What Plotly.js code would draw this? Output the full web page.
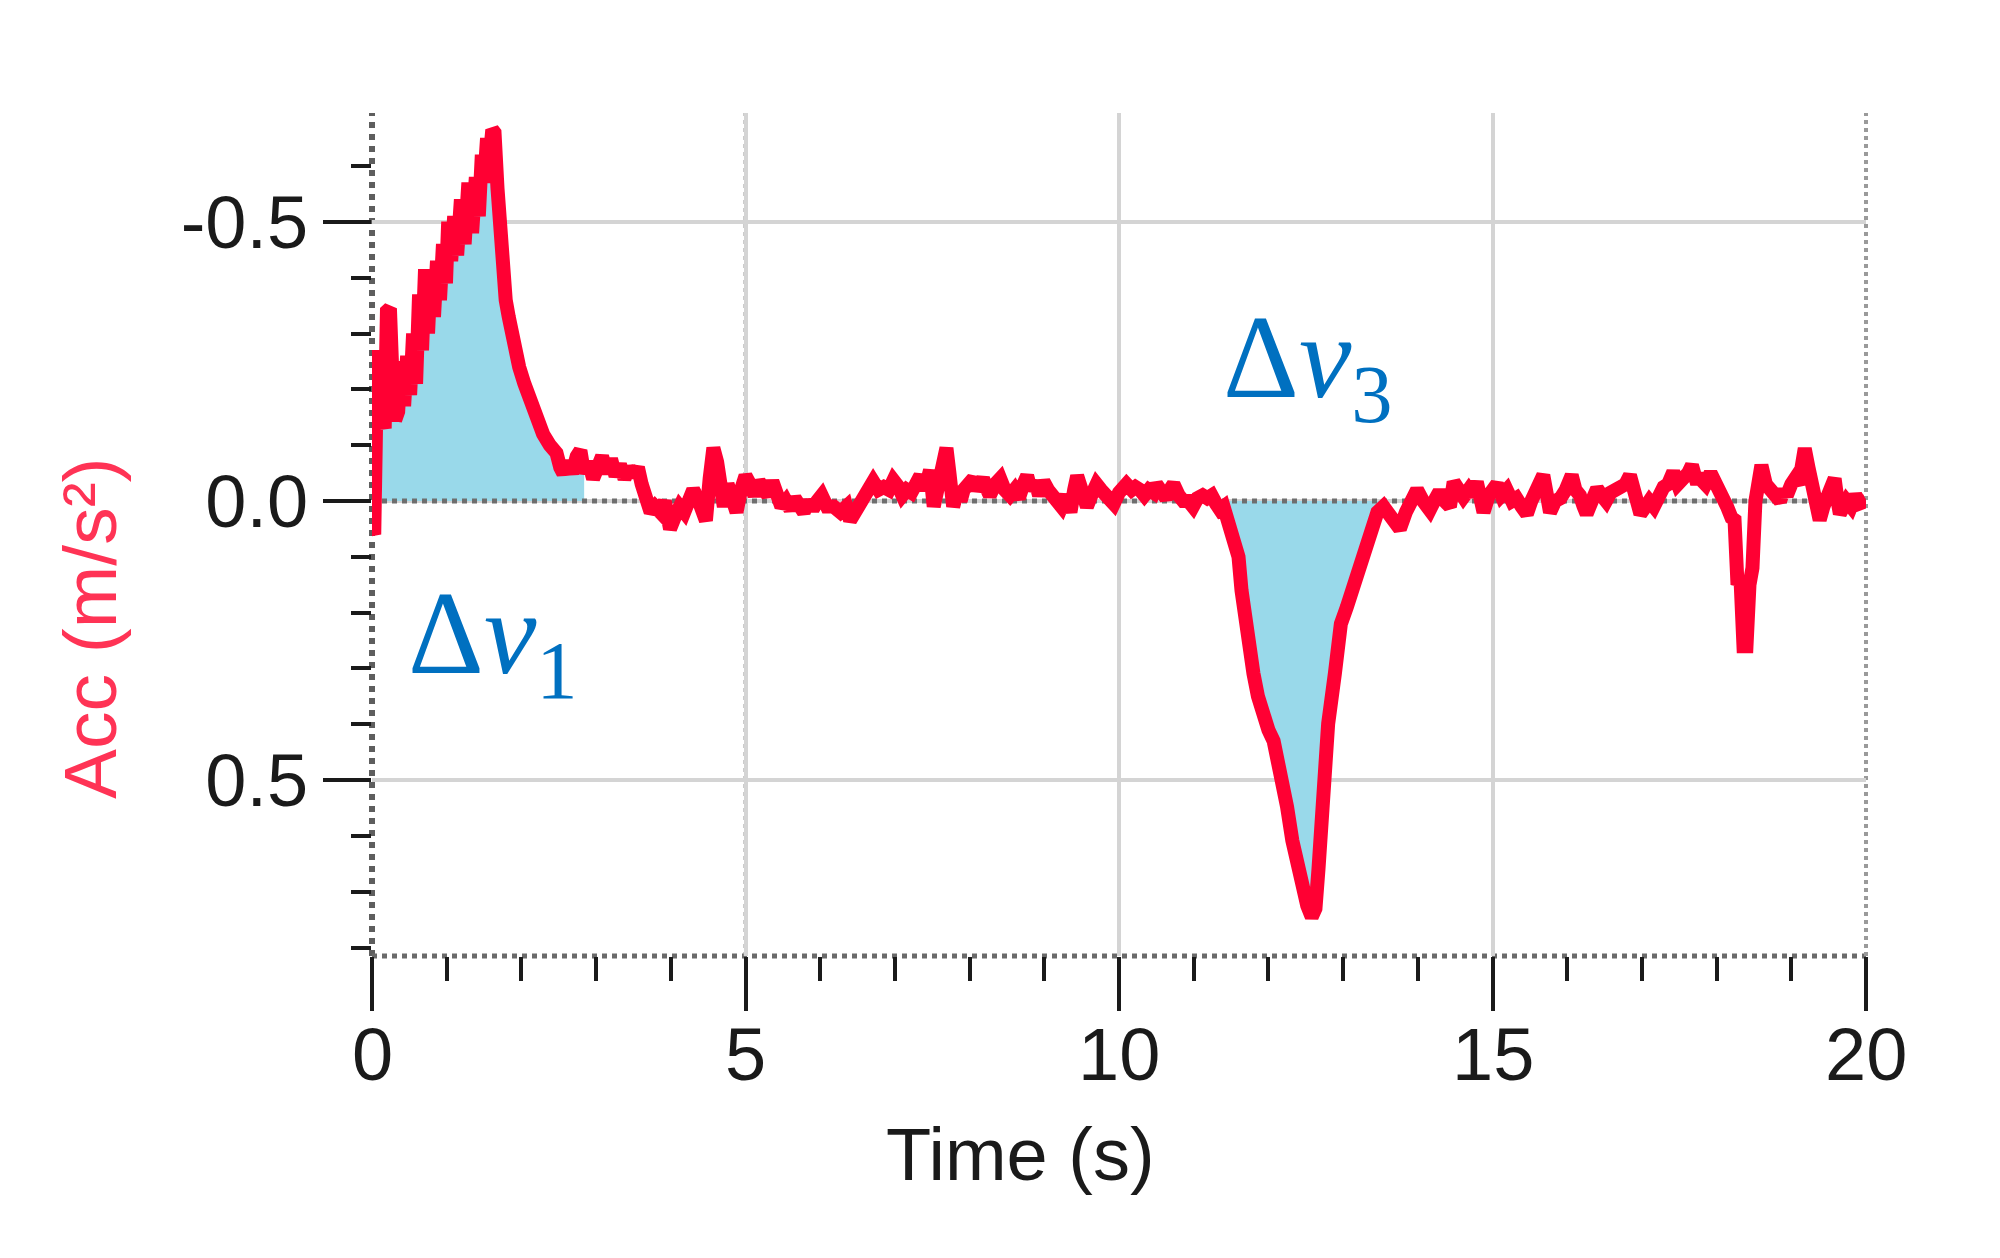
<!DOCTYPE html>
<html>
<head>
<meta charset="utf-8">
<script src="https://cdn.plot.ly/plotly-3.0.1.min.js"></script>
<style>html,body{margin:0;padding:0;background:#fff;}#chart{width:2000px;height:1258px;}</style>
</head>
<body>
<div id="chart"></div>
<script>
// Time (s)
const time = [
0.00,0.03,0.05,0.07,0.10,0.13,0.17,0.20,0.24,0.28,0.31,0.35,0.39,0.43,0.47,0.51,0.55,0.59,0.63,0.67,
0.71,0.75,0.79,0.83,0.87,0.91,0.95,0.99,1.02,1.06,1.10,1.14,1.19,1.24,1.29,1.34,1.39,1.43,1.47,1.50,
1.54,1.58,1.61,1.64,1.68,1.72,1.76,1.79,1.83,1.87,1.92,1.97,2.04,2.11,2.20,2.29,2.38,2.47,2.52,2.56,
2.62,2.68,2.74,2.79,2.84,2.90,2.96,3.02,3.08,3.14,3.20,3.26,3.32,3.38,3.44,3.50,3.56,3.61,3.67,3.73,
3.79,3.86,3.92,3.99,4.05,4.12,4.18,4.24,4.30,4.36,4.42,4.47,4.52,4.57,4.62,4.66,4.71,4.76,4.82,4.88,
4.94,5.00,5.06,5.12,5.18,5.24,5.30,5.36,5.42,5.48,5.54,5.60,5.66,5.72,5.78,5.84,5.90,5.96,6.02,6.09,
6.18,6.27,6.35,6.40,6.47,6.53,6.60,6.66,6.71,6.78,6.85,6.92,6.98,7.05,7.10,7.16,7.22,7.28,7.34,7.40,
7.47,7.52,7.56,7.60,7.65,7.69,7.73,7.78,7.84,7.88,7.92,7.98,8.05,8.10,8.18,8.22,8.27,8.34,8.41,8.47,
8.54,8.60,8.66,8.72,8.77,8.82,8.88,8.93,8.99,9.05,9.11,9.17,9.23,9.29,9.35,9.40,9.44,9.50,9.57,9.63,
9.70,9.76,9.82,9.88,9.93,10.00,10.05,10.10,10.17,10.22,10.28,10.34,10.40,10.46,10.50,10.57,10.63,10.68,10.73,10.80,
10.86,10.93,10.99,11.05,11.12,11.18,11.24,11.30,11.35,11.40,11.44,11.49,11.55,11.60,11.64,11.71,11.80,11.86,11.92,12.00,
12.07,12.17,12.25,12.32,12.40,12.46,12.52,12.58,12.63,12.67,12.70,12.74,12.80,12.89,12.97,13.05,13.14,13.25,13.32,13.38,
13.46,13.54,13.60,13.67,13.76,13.84,13.90,13.99,14.07,14.16,14.22,14.29,14.36,14.43,14.48,14.55,14.61,14.68,14.73,14.79,
14.84,14.88,14.95,15.00,15.06,15.12,15.19,15.26,15.32,15.39,15.46,15.52,15.58,15.64,15.68,15.73,15.77,15.84,15.91,15.98,
16.06,16.11,16.17,16.22,16.26,16.33,16.40,16.46,16.52,16.58,16.64,16.71,16.78,16.84,16.90,16.95,16.98,17.05,17.10,17.16,
17.22,17.29,17.35,17.42,17.48,17.56,17.62,17.67,17.72,17.78,17.85,17.92,17.96,18.02,18.05,18.10,18.14,18.20,18.24,18.28,
18.32,18.36,18.40,18.44,18.48,18.52,18.56,18.60,18.66,18.71,18.78,18.85,18.90,18.94,19.00,19.05,19.10,19.14,19.18,19.23,
19.29,19.34,19.38,19.43,19.47,19.52,19.58,19.62,19.65,19.70,19.74,19.80,19.86,19.92,20.00
];
// Acceleration (m/s^2)
const acc = [
0.05,0.06,-0.10,-0.27,-0.24,-0.15,-0.13,-0.34,-0.345,-0.20,-0.145,-0.16,-0.25,-0.17,-0.26,-0.19,-0.30,-0.21,-0.37,-0.27,
-0.415,-0.30,-0.415,-0.33,-0.43,-0.36,-0.46,-0.39,-0.50,-0.43,-0.51,-0.44,-0.54,-0.46,-0.57,-0.48,-0.58,-0.51,-0.62,-0.57,
-0.65,-0.62,-0.665,-0.66,-0.56,-0.46,-0.42,-0.36,-0.33,-0.30,-0.27,-0.24,-0.21,-0.18,-0.15,-0.12,-0.10,-0.086,-0.06,-0.05,
-0.07,-0.05,-0.08,-0.09,-0.05,-0.07,-0.04,-0.07,-0.08,-0.05,-0.075,-0.045,-0.065,-0.04,-0.06,-0.045,-0.06,-0.03,-0.005,0.02,
0.01,0.02,0.00,0.05,0.03,0.01,0.02,-0.01,-0.02,-0.005,0.02,0.035,-0.04,-0.095,-0.07,-0.03,0.01,-0.03,-0.01,0.02,
-0.02,-0.045,-0.03,-0.01,-0.035,-0.02,-0.01,-0.035,-0.01,0.01,0.00,0.015,-0.005,0.01,0.02,0.00,0.015,0.00,-0.01,0.01,
0.01,0.02,0.01,0.035,0.02,0.005,-0.01,-0.02,-0.035,-0.02,-0.025,-0.02,-0.037,-0.025,-0.01,-0.02,-0.015,-0.03,-0.045,-0.02,
-0.055,0.01,-0.01,-0.03,-0.06,-0.095,-0.05,0.01,-0.02,0.00,-0.02,-0.03,-0.04,-0.02,-0.04,-0.025,-0.01,-0.03,-0.04,-0.02,
-0.01,-0.02,-0.005,-0.03,-0.045,-0.02,-0.035,-0.01,-0.035,-0.02,-0.01,0.00,0.01,-0.01,0.02,-0.02,-0.045,-0.02,0.01,-0.01,
-0.03,-0.02,-0.01,0.00,0.005,-0.015,-0.02,-0.03,-0.02,-0.025,-0.02,-0.01,-0.02,-0.015,-0.03,-0.01,-0.005,-0.02,-0.03,-0.01,
0.00,0.00,0.01,-0.005,-0.01,-0.005,-0.01,0.005,0.015,0.01,0.03,0.05,0.065,0.10,0.16,0.237,0.309,0.35,0.387,0.41,
0.43,0.488,0.548,0.608,0.668,0.70,0.725,0.745,0.73,0.66,0.60,0.488,0.399,0.309,0.22,0.19,0.154,0.10,0.07,0.04,
0.02,0.01,0.02,0.04,0.05,0.02,0.00,-0.02,0.00,0.016,0.00,-0.017,0.00,0.01,-0.034,-0.02,-0.007,-0.02,-0.01,-0.034,
0.00,0.02,-0.01,-0.02,-0.03,-0.01,-0.02,0.00,-0.005,0.01,0.023,0.00,-0.02,-0.03,-0.046,-0.01,0.02,0.00,-0.005,-0.02,
-0.046,-0.02,-0.01,0.01,0.023,0.00,-0.022,-0.01,0.00,-0.015,-0.02,-0.02,-0.03,-0.046,-0.01,0.01,0.023,0.01,0.00,0.01,
-0.01,-0.025,-0.03,-0.052,-0.03,-0.04,-0.05,-0.064,-0.04,-0.04,-0.03,-0.05,-0.04,-0.03,-0.02,0.00,0.01,0.03,0.034,0.15,
0.14,0.26,0.26,0.15,0.12,0.00,-0.04,-0.064,-0.03,-0.02,-0.01,0.00,-0.02,-0.01,-0.03,-0.04,-0.03,-0.07,-0.094,-0.06,
-0.02,0.01,0.034,0.01,0.00,-0.02,-0.04,0.00,0.023,0.01,0.00,0.01,-0.01,0.004,0.00
];
// Shaded integration intervals (s): Δv1 and Δv3
const integralStart = [0.13, 11.42];
const integralEnd = [2.85, 13.56];
// Axis tick labels
const yTickVals = [-0.5, 0.0, 0.5];
const yTickText = ['-0.5', '0.0', '0.5'];
const xTickVals = [0, 5, 10, 15, 20];
const xTickText = ['0', '5', '10', '15', '20'];
const annoLabels = ['Δ<i>v</i><sub>1</sub>', 'Δ<i>v</i><sub>3</sub>'];

const RED = '#ff0033';
const FILL = '#99d9ea';
const traces = [];
integralStart.forEach((s, k) => {
  const xs = [], ys = [];
  time.forEach((t, i) => { if (t >= s && t <= integralEnd[k]) { xs.push(t); ys.push(acc[i]); } });
  traces.push({x: xs, y: ys, type: 'scatter', mode: 'lines', fill: 'tozeroy',
    fillcolor: FILL, line: {width: 0, color: FILL}, hoverinfo: 'skip', showlegend: false});
});
traces.push({x: [time[0], time[time.length - 1]], y: [0, 0], type: 'scatter', mode: 'lines',
  line: {color: '#6e6e6e', width: 5, dash: 'dot'}, hoverinfo: 'skip', showlegend: false});
traces.push({x: time, y: acc, type: 'scatter', mode: 'lines',
  line: {color: RED, width: 14, shape: 'linear'}, showlegend: false});

const FONT = '"Liberation Sans", Arial, sans-serif';
const tickFont = {family: FONT, size: 74, color: '#1a1a1a'};

const xLabelAnnotations = xTickVals.map((v, i) => ({
  text: xTickText[i], xref: 'x', yref: 'paper', x: v, y: -0.117,
  showarrow: false, xanchor: 'center', yanchor: 'middle', font: tickFont
}));

const layout = {
  width: 2000, height: 1258,
  margin: {l: 372, r: 134, t: 113, b: 302},
  paper_bgcolor: '#ffffff', plot_bgcolor: '#ffffff',
  showlegend: false,
  xaxis: {
    range: [0, 20], showline: false, zeroline: false,
    showgrid: true, gridcolor: '#d4d4d4', gridwidth: 4,
    tickvals: xTickVals, ticktext: xTickText, showticklabels: false,
    ticks: 'outside', ticklen: 54, tickwidth: 4, tickcolor: '#1a1a1a',
    tickfont: tickFont,
    minor: {dtick: 1, tick0: 0, ticks: 'outside', ticklen: 24, tickwidth: 4, tickcolor: '#1a1a1a', showgrid: false}
  },
  yaxis: {
    range: [0.815, -0.695], showline: false, zeroline: false,
    showgrid: true, gridcolor: '#d4d4d4', gridwidth: 4,
    tickvals: yTickVals, ticktext: yTickText,
    ticks: 'outside', ticklen: 48, tickwidth: 4, tickcolor: '#1a1a1a',
    tickfont: tickFont,
    minor: {dtick: 0.1, tick0: 0, ticks: 'outside', ticklen: 20, tickwidth: 4, tickcolor: '#1a1a1a', showgrid: false}
  },
  shapes: [
    {type: 'line', xref: 'paper', yref: 'paper', x0: 0, x1: 0, y0: 0, y1: 1, layer: 'between', line: {color: '#5e5e5e', width: 6, dash: 'dot'}},
    {type: 'line', xref: 'paper', yref: 'paper', x0: 0, x1: 1, y0: 0, y1: 0, layer: 'between', line: {color: '#6a6a6a', width: 5, dash: 'dot'}},
    {type: 'line', xref: 'x', yref: 'paper', x0: 5, x1: 5, y0: 0, y1: 1, layer: 'between', line: {color: '#9a9a9a', width: 4, dash: 'dot'}},
    {type: 'line', xref: 'paper', yref: 'paper', x0: 1, x1: 1, y0: 0, y1: 1, layer: 'between', line: {color: '#9a9a9a', width: 4, dash: 'dot'}}
  ],
  annotations: xLabelAnnotations.concat([
    {text: 'Acc (m/s²)', xref: 'paper', yref: 'paper', x: -0.1888, y: 0.389, textangle: -90,
     showarrow: false, xanchor: 'center', yanchor: 'middle',
     font: {family: FONT, size: 75, color: '#ff3355'}},
    {text: 'Time (s)', xref: 'paper', yref: 'paper', x: 0.4344, y: -0.236,
     showarrow: false, xanchor: 'center', yanchor: 'middle',
     font: {family: FONT, size: 74, color: '#1a1a1a'}},
    {text: annoLabels[0], xref: 'paper', yref: 'paper', x: 0.0228, y: 0.372,
     showarrow: false, xanchor: 'left', yanchor: 'middle',
     font: {family: '"Liberation Serif", "DejaVu Serif", serif', size: 118, color: '#0070c0'}},
    {text: annoLabels[1], xref: 'paper', yref: 'paper', x: 0.568, y: 0.700,
     showarrow: false, xanchor: 'left', yanchor: 'middle',
     font: {family: '"Liberation Serif", "DejaVu Serif", serif', size: 118, color: '#0070c0'}}
  ])
};

Plotly.newPlot('chart', traces, layout, {staticPlot: true, displayModeBar: false});
</script>
</body>
</html>
